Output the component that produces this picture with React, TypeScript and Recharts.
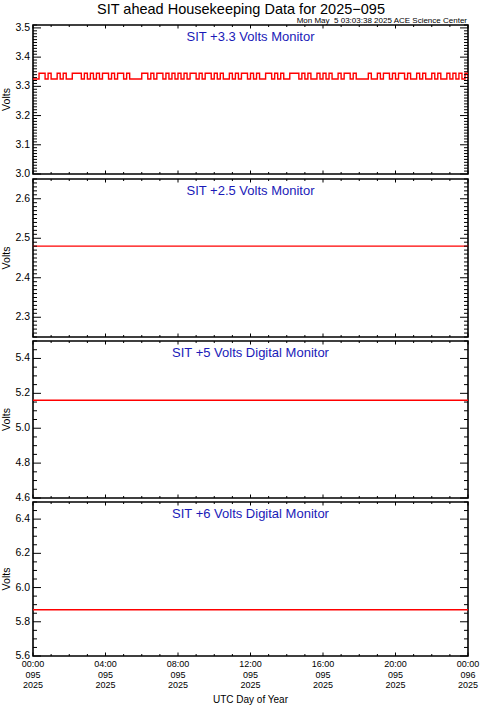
import React from 'react';
import { LineChart, Line, XAxis, YAxis, ReferenceArea } from 'recharts';

const FONT = '"Liberation Sans", Arial, sans-serif';
const W = 481;
const PLOT_L = 33;
const PLOT_R = 468;

// x axis: hours of day 095
const hourTicks = [0, 1, 2, 3, 4, 5, 6, 7, 8, 9, 10, 11, 12, 13, 14, 15, 16, 17, 18, 19, 20, 21, 22, 23, 24];
const majorHours = [0, 4, 8, 12, 16, 20, 24];
const xTimeLabels = ['00:00', '04:00', '08:00', '12:00', '16:00', '20:00', '00:00'];
const xDayLabels = ['095', '095', '095', '095', '095', '095', '096'];
const xYearLabels = ['2025', '2025', '2025', '2025', '2025', '2025', '2025'];

// +3.3 V monitor, 10 minute samples, toggling between two levels
const L = 3.325;
const H = 3.345;
const plus33 = [
  L, L, H, H, L, H, L, L, H, L, H, L,
  L, H, H, H, L, H, L, H, L, H, L, H,
  H, L, H, L, H, H, L, H, L, L, L, L,
  H, H, L, H, L, H, H, L, H, L, H, L,
  H, L, H, L, H, H, L, H, L, H, H, L,
  H, L, H, L, L, H, L, H, L, H, H, L,
  H, L, H, L, L, H, H, L, H, L, H, L,
  L, H, H, H, L, H, L, H, L, L, H, L,
  H, L, H, L, L, H, L, H, H, L, H, L,
  L, L, L, H, L, L, H, L, H, H, L, H,
  L, H, H, L, H, L, L, H, L, H, L, L,
  H, L, H, L, L, H, L, H, L, H, L, H,
  L,
];
const plus33Hours = plus33.map((_, i) => (i * 10) / 60);

// the other monitors are flat through the day (hourly samples)
const plus25 = [2.48, 2.48, 2.48, 2.48, 2.48, 2.48, 2.48, 2.48, 2.48, 2.48, 2.48, 2.48, 2.48, 2.48, 2.48, 2.48, 2.48, 2.48, 2.48, 2.48, 2.48, 2.48, 2.48, 2.48, 2.48];
const plus5 = [5.16, 5.16, 5.16, 5.16, 5.16, 5.16, 5.16, 5.16, 5.16, 5.16, 5.16, 5.16, 5.16, 5.16, 5.16, 5.16, 5.16, 5.16, 5.16, 5.16, 5.16, 5.16, 5.16, 5.16, 5.16];
const plus6 = [5.87, 5.87, 5.87, 5.87, 5.87, 5.87, 5.87, 5.87, 5.87, 5.87, 5.87, 5.87, 5.87, 5.87, 5.87, 5.87, 5.87, 5.87, 5.87, 5.87, 5.87, 5.87, 5.87, 5.87, 5.87];

const yMajors33 = [3.0, 3.1, 3.2, 3.3, 3.4, 3.5];
const yMajors25 = [2.3, 2.4, 2.5, 2.6];
const yMajors5 = [4.6, 4.8, 5.0, 5.2, 5.4];
const yMajors6 = [5.6, 5.8, 6.0, 6.2, 6.4];

const minorTicks = (lo: number, hi: number, step: number) => {
  const out: number[] = [];
  const n = Math.round((hi - lo) / step);
  for (let i = 0; i <= n; i++) out.push(+(lo + i * step).toFixed(3));
  return out;
};

type Panel = {
  title: string;
  top: number;
  bottom: number;
  domain: [number, number];
  majors: number[];
  step: number;
  data: { t: number; v: number }[];
  stepLine?: boolean;
};

const panels: Panel[] = [
  {
    title: 'SIT +3.3 Volts Monitor',
    top: 25,
    bottom: 174,
    domain: [3.0, 3.51],
    majors: yMajors33,
    step: 0.01,
    data: plus33.map((v, i) => ({ t: plus33Hours[i], v })),
    stepLine: true,
  },
  {
    title: 'SIT +2.5 Volts Monitor',
    top: 179,
    bottom: 337,
    domain: [2.25, 2.65],
    majors: yMajors25,
    step: 0.01,
    data: plus25.map((v, i) => ({ t: hourTicks[i], v })),
  },
  {
    title: 'SIT +5 Volts Digital Monitor',
    top: 341,
    bottom: 498,
    domain: [4.6, 5.5],
    majors: yMajors5,
    step: 0.05,
    data: plus5.map((v, i) => ({ t: hourTicks[i], v })),
  },
  {
    title: 'SIT +6 Volts Digital Monitor',
    top: 502,
    bottom: 656,
    domain: [5.6, 6.5],
    majors: yMajors6,
    step: 0.05,
    data: plus6.map((v, i) => ({ t: hourTicks[i], v })),
  },
];

const PAD_TOP = 20;

const PanelChart = ({ p, last }: { p: Panel; last: boolean }) => {
  const padBottom = last ? 706 - p.bottom : 20;
  const plotH = p.bottom - p.top;
  const yTop = PAD_TOP;
  const yBot = PAD_TOP + plotH;
  const yTicks = minorTicks(p.domain[0], p.domain[1], p.step);

  const renderYTick = (props: any) => {
    const { y, payload } = props;
    const v = payload.value as number;
    const major = p.majors.some((m) => Math.abs(m - v) < 1e-6);
    const len = major ? 8 : 4;
    return (
      <g>
        <line x1={PLOT_L} x2={PLOT_L + len} y1={y} y2={y} stroke="#000" strokeWidth={1} />
        <line x1={PLOT_R} x2={PLOT_R - len} y1={y} y2={y} stroke="#000" strokeWidth={1} />
        {major && (
          <text x={PLOT_L - 3} y={y + 3} textAnchor="end" fontSize={10.5} fontFamily={FONT} fill="#000">
            {v.toFixed(1)}
          </text>
        )}
      </g>
    );
  };

  const renderXTick = (props: any) => {
    const { x, payload } = props;
    const v = payload.value as number;
    const mi = majorHours.indexOf(v);
    const len = mi >= 0 ? 3.5 : 2;
    return (
      <g>
        <line x1={x} x2={x} y1={yBot} y2={yBot - len} stroke="#000" strokeWidth={1} />
        <line x1={x} x2={x} y1={yTop} y2={yTop + len} stroke="#000" strokeWidth={1} />
        {last && mi >= 0 && (
          <text textAnchor="middle" fontSize={9} fontFamily={FONT} fill="#000">
            <tspan x={x} y={yBot + 11}>{xTimeLabels[mi]}</tspan>
            <tspan x={x} y={yBot + 21.5}>{xDayLabels[mi]}</tspan>
            <tspan x={x} y={yBot + 32}>{xYearLabels[mi]}</tspan>
          </text>
        )}
      </g>
    );
  };

  return (
    <div style={{ position: 'absolute', left: 0, top: p.top - PAD_TOP }}>
      <LineChart
        width={W}
        height={plotH + PAD_TOP + padBottom}
        data={p.data}
        margin={{ top: PAD_TOP, bottom: 0, left: 0, right: W - PLOT_R }}
      >
        <XAxis
          dataKey="t"
          type="number"
          domain={[0, 24]}
          ticks={hourTicks}
          interval={0}
          height={padBottom}
          axisLine={false}
          tickLine={false}
          tick={renderXTick}
          allowDataOverflow
        />
        <YAxis
          type="number"
          domain={p.domain}
          ticks={yTicks}
          interval={0}
          width={PLOT_L}
          axisLine={false}
          tickLine={false}
          tick={renderYTick}
          allowDataOverflow
        />
        <Line
          dataKey="v"
          type={p.stepLine ? 'stepAfter' : 'linear'}
          stroke="#ff0000"
          strokeWidth={1.4}
          dot={false}
          isAnimationActive={false}
        />
        <ReferenceArea
          x1={0}
          x2={24}
          y1={p.domain[0]}
          y2={p.domain[1]}
          fill="none"
          stroke="#000"
          strokeWidth={1.6}
          ifOverflow="visible"
        />
      </LineChart>
    </div>
  );
};

export default function App() {
  return (
    <div style={{ position: 'absolute', left: 0, top: 0, width: 481, height: 706, background: '#fff' }}>
      {panels.map((p, i) => (
        <PanelChart key={p.title} p={p} last={i === panels.length - 1} />
      ))}
      <svg
        width={481}
        height={706}
        style={{ position: 'absolute', left: 0, top: 0, pointerEvents: 'none' }}
      >
        <text x={241} y={13.5} textAnchor="middle" fontSize={14.5} fontFamily={FONT} fill="#000">
          SIT ahead Housekeeping Data for 2025−095
        </text>
        <text
          x={467}
          y={23}
          textAnchor="end"
          fontSize={8}
          fontFamily={FONT}
          fill="#000"
          style={{ whiteSpace: 'pre' }}
        >
          {'Mon May  5 03:03:38 2025 ACE Science Center'}
        </text>
        {panels.map((p) => (
          <g key={p.title}>
            <text
              x={(PLOT_L + PLOT_R) / 2}
              y={p.top + 16}
              textAnchor="middle"
              fontSize={13}
              fontFamily={FONT}
              fill="#1a1ab8"
            >
              {p.title}
            </text>
            <text
              transform={`translate(10, ${(p.top + p.bottom) / 2}) rotate(-90)`}
              textAnchor="middle"
              fontSize={10.5}
              fontFamily={FONT}
              fill="#000"
            >
              Volts
            </text>
          </g>
        ))}
        <text x={(PLOT_L + PLOT_R) / 2} y={703} textAnchor="middle" fontSize={10} fontFamily={FONT} fill="#000">
          UTC Day of Year
        </text>
      </svg>
    </div>
  );
}
